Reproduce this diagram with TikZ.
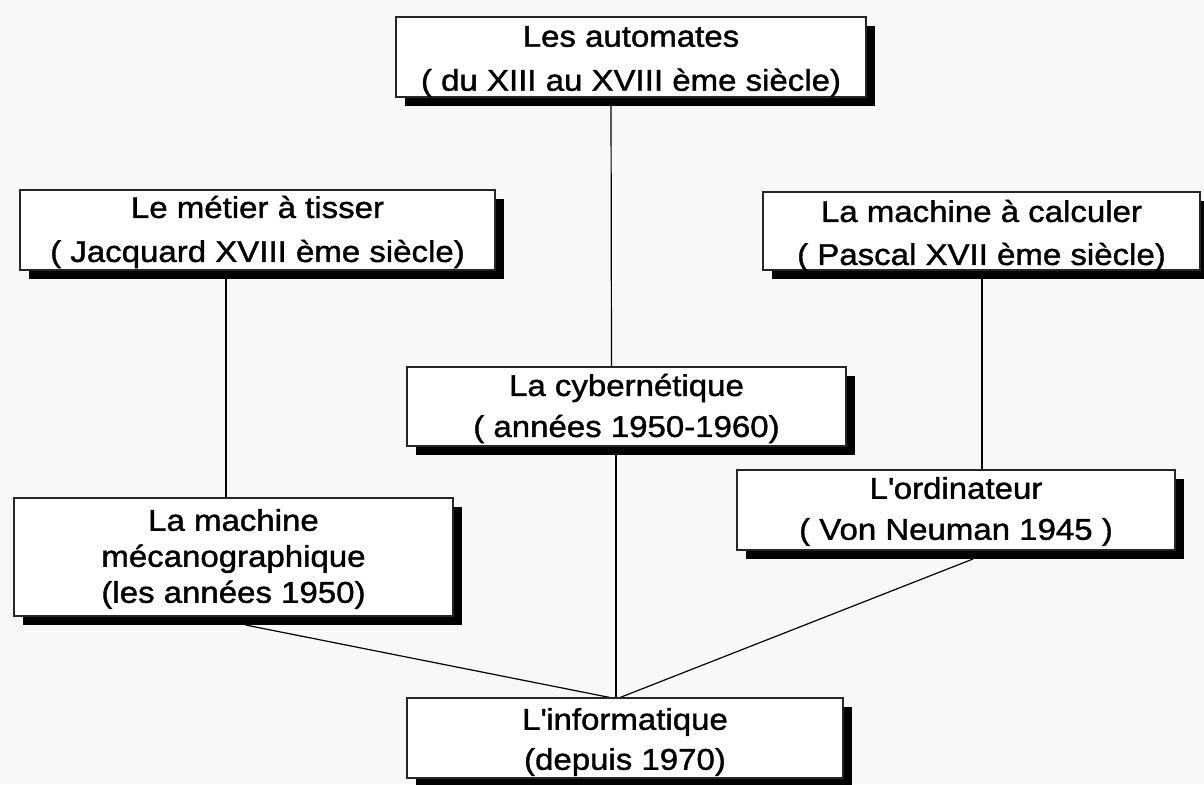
\documentclass[tikz,border=0pt]{standalone}
\usepackage{fontspec}
\setmainfont{Liberation Sans}[FakeStretch=1.1,FakeBold=1.3]
\usetikzlibrary{shadows,calc}
\definecolor{bg}{RGB}{248,248,248}
\tikzset{
  box/.style={draw=black!85, line width=1.2pt, fill=white, inner sep=0pt,
    drop shadow={fill=black, opacity=1, shadow xshift=9pt, shadow yshift=-9pt}},
  txt/.style={inner sep=0pt, align=center, font=\fontsize{30}{#1}\selectfont},
  txt/.default=43,
  link/.style={draw=black, line width=1.2pt}
}
\begin{document}
\begin{tikzpicture}[x=1pt,y=-1pt]
\fill[bg] (0,0) rectangle (1204,784);
\useasboundingbox (0,0) rectangle (1204,784);
% box positions (anchors for connectors)
\coordinate (pauto) at (631,57);
\coordinate (pmetier) at (257.5,230);
\coordinate (pcalc) at (981.5,231);
\coordinate (pcyber) at (626.5,406.5);
\coordinate (pordi) at (956,510);
\coordinate (pmeca) at (233.5,557);
\coordinate (pinfo) at (625,738);
% connectors, drawn first so that the boxes cover their ends
\path[link] ($(pauto)+(-20,40)$) coordinate (a1) -- ($(pcyber)+(-15,-39.5)$) coordinate (a2);
\path[link] ($(pmetier)+(-31.5,40)$) coordinate (b1) -- ($(pmeca)+(-7.5,-59)$) coordinate (b2);
\path[link] ($(pcalc)+(0.5,39)$) coordinate (d1) -- ($(pordi)+(26,-40)$) coordinate (d2);
\path[link] ($(pcyber)+(-10.5,39.5)$) coordinate (e1) -- ($(pinfo)+(-9,-40)$) coordinate (e2);
\path[link] ($(pmeca)+(12,68)$) coordinate (f1) -- ($(pinfo)+(-15,-40.5)$) coordinate (f2);
\path[link] ($(pordi)+(17,49)$) coordinate (g1) -- ($(pinfo)+(-5,-40.5)$) coordinate (g2);
% boxes
\node[box, minimum width=470pt, minimum height=80pt] (auto) at (pauto) {};
\node[box, minimum width=475pt, minimum height=80pt] (metier) at (pmetier) {};
\node[box, minimum width=437pt, minimum height=78pt] (calc) at (pcalc) {};
\node[box, minimum width=439pt, minimum height=79pt] (cyber) at (pcyber) {};
\node[box, minimum width=438pt, minimum height=80pt] (ordi) at (pordi) {};
\node[box, minimum width=439pt, minimum height=118pt] (meca) at (pmeca) {};
\node[box, minimum width=436pt, minimum height=80pt] (info) at (pinfo) {};
% texts
\node[txt=44] (auto-t) at ($(auto.center)+(0,4.5)$) {Les automates\\( du XIII au XVIII ème siècle)};
\node[txt=44] (metier-t) at ($(metier.center)+(0,2)$) {Le métier à tisser\\( Jacquard XVIII ème siècle)};
\node[txt=43] (calc-t) at ($(calc.center)+(0,4.5)$) {La machine à calculer\\( Pascal XVII ème siècle)};
\node[txt=41] (cyber-t) at ($(cyber.center)+(0,2)$) {La cybernétique\\( années 1950-1960)};
\node[txt=41] (ordi-t) at ($(ordi.center)+(0,1.5)$) {L\textquotesingle ordinateur\\( Von Neuman 1945 )};
\node[txt=36] (meca-t) at ($(meca.center)+(0,2)$) {La machine\\mécanographique\\(les années 1950)};
\node[txt=40] (info-t) at ($(info.center)+(0,4)$) {L\textquotesingle informatique\\(depuis 1970)};
\end{tikzpicture}
\end{document}
